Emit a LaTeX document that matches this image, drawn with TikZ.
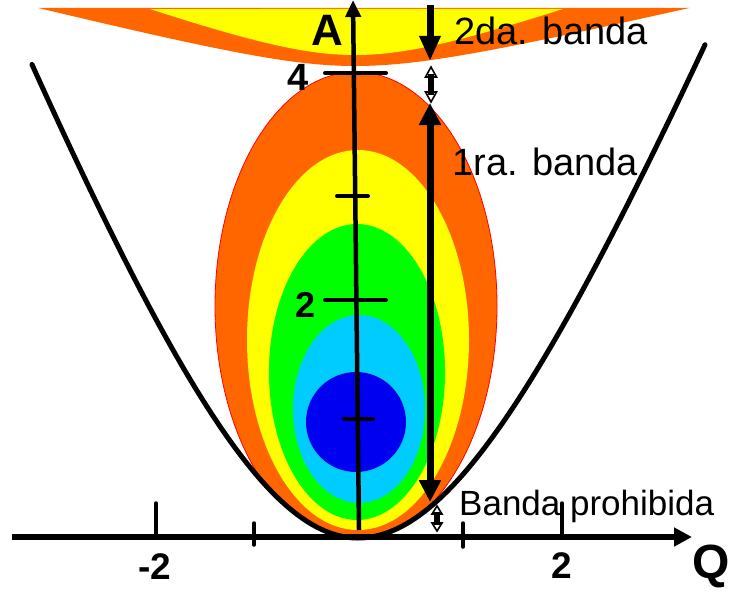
\documentclass[tikz,border=0pt]{standalone}
\usepackage{fontspec}
\setmainfont{Liberation Sans}
\usetikzlibrary{arrows.meta}
\definecolor{cOrange}{HTML}{FF6600}
\definecolor{cYellow}{HTML}{FFFF00}
\definecolor{cGreen}{HTML}{00FF00}
\definecolor{cCyan}{HTML}{00CCFF}
\definecolor{cBlue}{HTML}{0000F0}
\begin{document}
\begin{tikzpicture}[x=1pt,y=-1pt,
  tickline/.style={line width=3.5, line cap=round},
  atick/.style={line width=4, line cap=round},
  bigtip/.style={-{Triangle[length=25pt,width=20pt]}},
  headshape/.style={draw=black, line width=1.6, fill=white, line join=miter},
  lbl/.style={inner sep=0pt, font=\fontsize{38}{40}\selectfont},
  blbl/.style={inner sep=0pt, font=\fontsize{#1}{#1}\selectfont\bfseries},
]
\useasboundingbox (0,0) rectangle (730,591);

% second band (top)
\fill[cOrange] plot[domain=-317:335, samples=120]
  ({355+\x},{66 - ifthenelse(\x<0,25,23.3)*(sqrt(1+(\x/100)^2)-1)}) -- cycle;
\fill[cYellow] plot[domain=-205:208, samples=100]
  ({355+\x},{55 - ifthenelse(\x<0,35.9,35.2)*(sqrt(1+(\x/100)^2)-1)}) -- cycle;

% first band ellipses clipped by the parabola
\begin{scope}
\clip plot[domain=-326:347, samples=150]
  ({358+\x},{538 - ifthenelse(\x<0,519,492)*(sqrt(1+(\x/200)^2)-1)}) -- (705,0) -- (32,0) -- cycle;
\fill[cOrange, draw=red, line width=0.8] (356,306) ellipse [x radius=141, y radius=234];
\fill[cYellow] (358,340) ellipse [x radius=111, y radius=190];
\fill[cGreen] (357,372) ellipse [x radius=88, y radius=148];
\fill[cCyan] (359,409) ellipse [x radius=66, y radius=94];
\fill[cBlue] (356,422) circle [radius=50];
\end{scope}

% parabola
\draw[line width=5, line cap=round] plot[domain=-326:347, samples=150]
  ({358+\x},{538 - ifthenelse(\x<0,519,492)*(sqrt(1+(\x/200)^2)-1)});

% coordinates
\coordinate (q0) at (12,537);
\coordinate (q1) at (692,537);
\coordinate (a0) at (359,530);
\coordinate (a1) at (353,0);

% labels (text)
\node[lbl, anchor=base east] (t2da) at (648,45) {2da. banda};
\node[lbl, anchor=base east] (t1ra) at (638,175) {1ra. banda};
\node[inner sep=0pt, anchor=base west, font=\fontsize{35}{37}\selectfont] (tprob) at (459,515) {Banda prohibida};

% axes
\draw[line width=6, -{Triangle[length=18pt,width=18pt]}] (q0) -- (q1);
\draw[line width=4.5, -{Triangle[length=17pt,width=15pt]}] (a0) -- (a1);

% ticks on A axis
\draw[atick] (325,73) -- (386,73);
\draw[atick] (337,196) -- (368,196);
\draw[atick] (325,300) -- (386,300);
\draw[atick] (344,419) -- (373,419);

% ticks on Q axis
\draw[tickline] (156,503) -- (156,537);
\draw[tickline] (254,523) -- (254,545);
\draw[tickline] (463,523) -- (463,547);
\draw[tickline] (562,503) -- (562,537);

% arrows
\coordinate (d0) at (430,5);
\coordinate (d1) at (430,61);
\coordinate (b0) at (430,103);
\coordinate (b1) at (430,502);
\draw[line width=7, bigtip] (d0) -- (d1);
\draw[line width=7, {Triangle[length=22pt,width=21pt]}-{Triangle[length=22pt,width=21pt]}] (b0) -- (b1);

% small double arrow (gap between bands)
\coordinate (s0) at (431,67);
\coordinate (s1) at (431,102);
\filldraw[headshape] (s0) -- ++(-5.5,10) -- ++(11,0) -- cycle;
\filldraw[headshape] (s1) -- ++(-5.5,-10) -- ++(11,0) -- cycle;
\fill[black] (428,74) rectangle (434,95);

% small double arrow (forbidden band)
\coordinate (p0) at (437,506);
\coordinate (p1) at (437,531);
\filldraw[headshape] (p0) -- ++(-5,8) -- ++(10,0) -- cycle;
\filldraw[headshape] (p1) -- ++(-5,-8) -- ++(10,0) -- cycle;
\fill[black] (434,512) rectangle (440,525);

% bold labels
\node[blbl=44] (tA) at (327,30) {A};
\node[blbl=38] (t4) at (298,77) {4};
\node[blbl=36] (t2a) at (306,305) {2};
\node[blbl=37] (tm2) at (155,567) {-2};
\node[blbl=37] (t2b) at (562,566) {2};
\node[blbl=48] (tQ) at (711,566) {Q};
\end{tikzpicture}
\end{document}
